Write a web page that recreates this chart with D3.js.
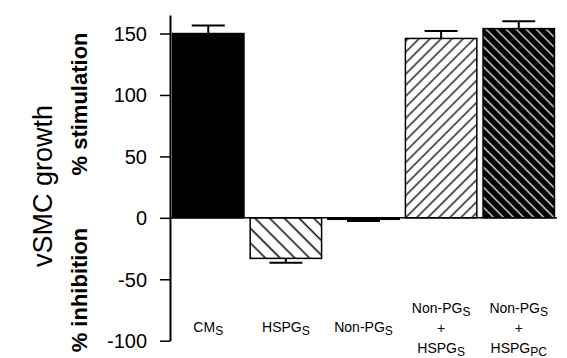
<!DOCTYPE html>
<html>
<head>
<meta charset="utf-8">
<script src="https://cdn.jsdelivr.net/npm/d3@7"></script>
<style>
  body { margin: 0; background: #fff; }
  text { font-family: "Liberation Sans", Arial, sans-serif; fill: #000; }
</style>
</head>
<body>
<svg id="chart" width="567" height="358"></svg>
<script>
// groups, bottom label lines (text + subscript), means and SEM
var groups = ["CMs", "HSPGs", "Non-PGs", "Non-PGs+HSPGs", "Non-PGs+HSPGpc"]
var labelLines = [
    [["CM", "S"]],
    [["HSPG", "S"]],
    [["Non-PG", "S"]],
    [["Non-PG", "S"], ["+", ""], ["HSPG", "S"]],
    [["Non-PG", "S"], ["+", ""], ["HSPG", "PC"]]
]
var growth = [150, -33, -1.2, 146, 154]
var sem = [6.5, 3.5, 1.3, 6, 6]
var fills = ["solid", "hatchA", "plain", "hatchB", "hatchC"]
var yTicks = [-100, -50, 0, 50, 100, 150]

var svg = d3.select("#chart")

var x = d3.scaleBand()
    .domain(groups)
    .range([171, 556])
    .paddingInner(0.08)
    .paddingOuter(0.02)

var y = d3.scaleLinear()
    .domain([-100, 165])
    .range([340.7, 15.1])

// hatch patterns
var defs = svg.append("defs")
function hatch(id, size, angle, bg, fg, w) {
    var p = defs.append("pattern")
        .attr("id", id)
        .attr("patternUnits", "userSpaceOnUse")
        .attr("width", size)
        .attr("height", size)
        .attr("patternTransform", "rotate(" + angle + ")")
    p.append("rect").attr("width", size).attr("height", size).attr("fill", bg)
    p.append("line")
        .attr("x1", size / 2).attr("x2", size / 2)
        .attr("y1", 0).attr("y2", size)
        .attr("stroke", fg).attr("stroke-width", w)
}
hatch("hatchA", 10.4, -45, "#fff", "#000", 1.5)
hatch("hatchB", 7.8, 45, "#fff", "#000", 1.3)
hatch("hatchC", 7.1, -45, "#000", "#fff", 1.2)

var fillOf = function(f) {
    if (f == "solid") return "#000"
    if (f == "plain") return "#fff"
    return "url(#" + f + ")"
}

// bars
svg.append("g").selectAll("rect")
    .data(groups)
    .enter().append("rect")
    .attr("x", function(d) { return x(d) })
    .attr("width", x.bandwidth())
    .attr("y", function(d, i) { return y(Math.max(0, growth[i])) })
    .attr("height", function(d, i) { return Math.abs(y(growth[i]) - y(0)) })
    .attr("fill", function(d, i) { return fillOf(fills[i]) })
    .attr("stroke", "#000")
    .attr("stroke-width", 1.5)

// error bars (one sided, away from zero)
var eb = svg.append("g").attr("stroke", "#000").attr("stroke-width", 2)
groups.forEach(function(g, i) {
    var cx = x(g) + x.bandwidth() / 2
    var sign = growth[i] < 0 ? -1 : 1
    var end = growth[i] + sign * sem[i]
    eb.append("line")
        .attr("x1", cx).attr("x2", cx)
        .attr("y1", y(growth[i])).attr("y2", y(end))
    eb.append("line")
        .attr("x1", cx - 16.5).attr("x2", cx + 16.5)
        .attr("y1", y(end)).attr("y2", y(end))
})

// zero line
svg.append("line")
    .attr("x1", 170).attr("x2", 557)
    .attr("y1", y(0)).attr("y2", y(0))
    .attr("stroke", "#000")
    .attr("stroke-width", 1.5)

// y axis
var axis = svg.append("g")
    .attr("transform", "translate(170,0)")
    .call(d3.axisLeft(y)
        .tickValues(yTicks)
        .tickFormat(function(d) { return String(d) })
        .tickSize(10)
        .tickSizeOuter(0)
        .tickPadding(13))
axis.select(".domain").attr("stroke-width", 2)
axis.selectAll(".tick line").attr("stroke-width", 1.5)
axis.selectAll("text")
    .style("font-family", "'Liberation Sans', Arial, sans-serif")
    .style("font-size", "20px")
    .attr("dy", "0.35em")

// axis titles
svg.append("text")
    .attr("transform", "translate(52,186) rotate(-90)")
    .attr("text-anchor", "middle")
    .style("font-size", "27px")
    .text("vSMC growth")

svg.append("text")
    .attr("transform", "translate(87,104) rotate(-90)")
    .attr("text-anchor", "middle")
    .style("font-size", "22px")
    .style("font-weight", "bold")
    .text("% stimulation")

svg.append("text")
    .attr("transform", "translate(87,290) rotate(-90)")
    .attr("text-anchor", "middle")
    .style("font-size", "22px")
    .style("font-weight", "bold")
    .text("% inhibition")

// category labels
groups.forEach(function(g, i) {
    var lines = labelLines[i]
    var cx = x(g) + x.bandwidth() / 2
    var base = lines.length == 1 ? [332] : [313, 333, 353]
    lines.forEach(function(l, j) {
        var t = svg.append("text")
            .attr("x", cx)
            .attr("y", base[j])
            .attr("text-anchor", "middle")
            .style("font-size", "14px")
        t.append("tspan").text(l[0])
        if (l[1]) {
            t.append("tspan")
                .attr("dy", 2.5)
                .style("font-size", "12px")
                .text(l[1])
        }
    })
})
</script>
</body>
</html>
